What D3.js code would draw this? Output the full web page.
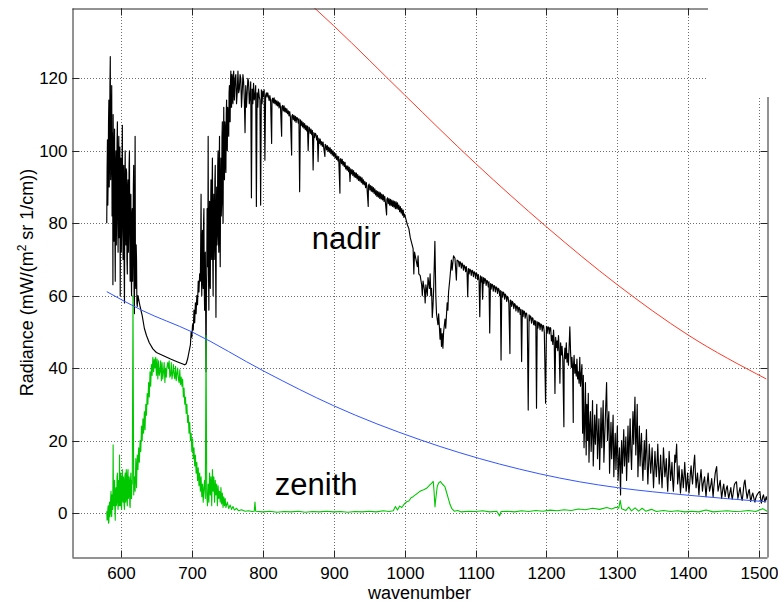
<!DOCTYPE html>
<html>
<head>
<meta charset="utf-8">
<script src="https://cdn.jsdelivr.net/npm/d3@7"></script>
<style>
  html, body { margin: 0; padding: 0; background: #fff; }
  svg { display: block; }
  text { font-family: "Liberation Sans", Arial, Helvetica, sans-serif; }
</style>
</head>
<body>
<script>
// ---------- data ----------
const xTicks = [600, 700, 800, 900, 1000, 1100, 1200, 1300, 1400, 1500];
const yTicks = [0, 20, 40, 60, 80, 100, 120];
const xLabel = "wavenumber";
const yLabelMain = "Radiance (mW/(m";
const yLabelSup = "2";
const yLabelTail = " sr 1/cm))";
const annotations = [
  { text: "nadir", wn: 869, rad: 72.8 },
  { text: "zenith", wn: 817, rad: 5.0 }
];

// nadir (black) spectrum: [wavenumber, radiance]
const nadirPoints = [
[580,80],[580.5,95],[581,103],[581.5,85],[582,92],[582.5,108],[583,114],[583.5,90],[584,98],[584.5,118],[585,126],[585.5,92],[586,96],[586.5,110],[587,118],[587.5,82],[588,88],[588.3,105],[588.7,63],[589,110],[589.5,92],[590,75],[590.5,100],[591,106],[591.5,78],[592,64],[592.5,95],[593,100],[593.5,74],[594,85],[594.5,102],[595,108],[595.5,80],[596,72],[596.5,98],[597,104],[597.5,76],[598,90],[598.5,101],[599,60],[599.5,88],[600,98],[600.5,72],[601,78],[601.5,96],[602,107],[602.5,82],[603,70],[603.5,94],[604,96],[604.5,68],[605,58],[605.5,90],[606,100],[606.5,80],[607,74],[607.5,95],[608,94],[608.5,70],[609,66],[609.5,90],[610,92],[610.5,72],[611,80],[611.5,96],[612,100],[612.5,75],[613,64],[613.5,86],[614,88],[614.5,66],[615,60],[615.5,82],[616,84],[616.5,64],[617,72],[617.5,90],[618,96],[618.5,62],[619,55],[619.5,80],[620,104],[620.5,64],[621,62],[621.5,74],[622,70],[622.5,58],[623,57],
[624,60],[627,57],[630,54.5],[633,51],[636,49],[640,47],[645,45.3],[650,44.3],[660,43.4],[670,42.5],[680,41.7],[690,40.9],
[692,41.2],[694,42.5],[696,44.5],[698,46.5],[699,50],[700,48.5],[701,52],[702,50.5],[703,56],[704,52.5],[705,58],[706,55],[707,60],[708,57.5],[709,64],[710,61],[711,66],
[712,64],[712.5,75],[713,88],[713.5,66],[714,60],[714.5,74],[715,78],[715.5,64],[716,62],[716.5,80],[717,84],[717.5,62],[718,56],[718.5,70],[719,72],[719.5,55],[720,39],[720.5,60],[721,66],[721.5,84],[722,80],[722.5,68],[723,104],[723.5,66],[724,56],[724.5,78],[725,86],[725.5,64],[726,62],[726.5,84],[727,92],[727.5,72],[728,70],[728.5,90],[729,98],[729.5,70],[730,60],[730.5,82],[731,88],[731.5,70],[732,74],[732.5,92],[733,96],[733.5,68],[734,54],[734.5,80],[735,90],[735.5,74],[736,78],[736.5,96],[737,100],[737.5,76],[738,72],[738.5,94],[739,104],[739.5,78],[740,68],[740.5,90],[741,98],[741.5,82],[742,86],[742.5,104],[743,108],[743.5,86],[744,80],[744.5,100],[745,112],[745.5,94],[746,92],[746.5,108],[747,106],[747.5,96],[748,94],[748.5,110],[749,114],[749.5,102],[750,100],[750.5,112],[751,110],[751.5,106],[752,104],[752.5,116],[753,118],[753.5,108],[754,108],[754.5,119],[755,122],[755.5,112],[756,112],[756.5,121],[757,120],[757.5,114],[758,113],[758.5,121],[759,122],[759.5,116],
[760,114],[761,120],[762,121],[763,113],[764,116],[765,122],[766,116],[767,117],[768,121],[769,120],[770,112],[771,116],[772,121],[773,119],[774,114],[775,105],[776,118],[777,112],[778,116],[779,120],[780,119],[781,113],[782,115],[783,119],[784,87],[785,117],[786,113],[787,118.6],[788,114],[789,115],[790,118],[791,84.6],[792,116],[793,112],[794,117],[795,115],[796,114],[797,85],[798,116.8],[799,113],
[800,116.5],[801,115],[802,116.8],[803,97.4],[804,115.2],[805,116],[806,114.8],[807,116],[808,115],[809,113.8],[810,115.2],[811,114],[812.5,102],[813,114],[814,114.5],[815,113.2],[816,114.6],[817,113],[818,114],[819,112.6],[820,113.8],[821,112.4],[822,113.5],[823,111.8],[824,113.2],[825,112],[826.6,104],[827,112.2],[828,112.5],[829,111],[830,112.4],[831,110.8],[832,111.8],[833,110.5],[834,111.6],[835,110.2],[836,111],[837,109.6],[838,110.8],[839,109.2],[840.7,98.8],[841,109.5],[842,110],[843,108.6],[844,109.8],[845,108.2],[846,109.5],[847,107.8],[848,109.2],[849,109],[850,107.6],[851,108.8],[852,88.7],[853,108.5],[854,107],[855,108.2],[856,106.6],[857,107.8],[858,106.2],[859,107.5],[860,105.8],[861,107],[862,105.5],[863,106.8],[864,100],[865,106.5],[866,106.2],[867,104.8],[868,106],[869,104.4],[870,105.6],[871,94.7],[872,105],[873,103.6],[874,104.8],[875,104.5],[876,103],[877,104.2],[878,97],[879,103.5],[880,102],[881,103.2],[882,101.6],[883,102.5],[884,101.2],[885,102.4],[886,100.8],[887.6,98.4],[888,101.8],[889,101.5],[890,100.2],[891,101.4],[892,99.8],[893,101],[894,99.6],[895,100.8],[896,99.2],[897,100.3],[898,98.8],[899,100],[900,98.5],[901,99.5],[902,98],[903,99.2],[904,97.6],[905,98.5],[906,97.2],[907,98.4],[908.8,88.3],[909,97.6],[910,97.8],[911,96.4],[912,97.6],[913,96],[914,97],[915,95.6],[916,96.8],[917,95],[918,95.8],[919,94.6],[920,95.8],[921,94.2],[922,95.4],[923,91.5],[924,95],[925,93.6],[926,94.8],[927,93.2],[928,94.5],[929,92.8],[930,94],[931,92.6],[932,93.8],[933,92.2],[934,93.4],[935,91.8],[936,93],[937,91.6],[938,92.8],[939,91.2],[940,92.5],[941,90.8],[942,92],[943,90.6],[944,91.5],[945,89.8],[946,91.2],[947,89.6],[948.7,84.6],[949,90.4],[950,90.8],[951,89.2],[952,90.4],[953,88.8],[954,90.2],[955,88.6],[956,89.8],[957,88.2],[958,89.5],[959,87.8],[960,89],[961,87.4],[962,88.8],[963,87.2],[964,88.6],[965,86.8],[966,88.4],[967,86.6],[968,88],[969,86.4],[970,87.8],[971,86],[972,87.4],[973,85.6],[974.6,82.3],[975,86.6],[976,87],[977,85.4],[978,86.8],[979,85],[980,86.6],[981,84.8],[982,86.4],[983,84.6],[984,86.2],[985,84.4],[986,86],[987,84],[988,85.9],[989,84],[990,85.6],[991,83.8],[992,85],[993,83.2],[994,84.6],[995,82.8],[996,84],[997,82.2],[998,83.6],[999,81.6],[1000,82.5],
[1002,81],[1004,79.5],[1006,78.5],[1008,76],[1010,74.5],[1012,73],[1013,66],[1014,72],[1016,70],[1018,68],[1019,71],[1020,66],[1022,65.5],[1024,63],[1025,60],[1026,64],[1028,61.5],[1029,58],[1030,63],[1032,60],[1033,65],[1035,62],[1036,66],[1037,60],[1038,62],[1039,54],[1040,57],[1041,62],[1042.7,75],[1044,60],[1045,55],[1047,52],[1048,55],[1050,48],[1051,51],[1052,46],[1053,49.5],[1054,45.5],[1055,50],[1057,53.5],[1058,51],[1060,58],[1061,56],[1062,61],[1064,65],[1066,69.8],[1067,67],[1069,71],[1071,70.3],[1073,64.3],[1074,69.8],
[1076,69.5],[1077,68],[1078,69.4],[1079,69],[1080,67.6],[1081,69],[1082,68.5],[1083,67],[1084,68.4],[1085,68],[1086,66.6],[1087,68],[1088,66.5],[1089,59.7],[1090,67.5],[1091,66],[1092,67.3],[1093,67],[1094,65.6],[1095,67],[1096,66.8],[1097,65.2],[1098,66.6],[1099,66.4],[1100,64.8],[1101,66.2],[1102,66],[1103,64.4],[1104,65.8],[1105,64.2],[1106,54.2],[1107,65.5],[1108,63.8],[1109,65.2],[1110,59],[1111,65],[1112,63.4],[1113,64.8],[1114,64.5],[1115,62.8],[1116,64.2],[1117,64],[1118,62.4],[1119,63.8],[1120,49.7],[1121,63.3],[1122,61.8],[1123,63.2],[1124,63],[1125,61.2],[1126,62.8],[1127,62.6],[1128,61],[1129,62.4],[1130,62.2],[1131,60.6],[1132,62],[1133,61.8],[1134,60],[1135,61.4],[1136,42.2],[1137,61.2],[1138,59.6],[1139,61],[1140,60.7],[1141,59],[1142,60.4],[1143,60],[1144,58.4],[1145,59.8],[1146,59.5],[1147,57.8],[1148.5,44],[1149,58.8],[1150,58.6],[1151,57],[1152,58.4],[1153,58],[1154,56.4],[1155,57.8],[1156,57.5],[1157,55.8],[1158,57.2],[1159,57],[1160,55.4],[1161,56.8],[1162,56.6],[1163,54.8],[1164,56.2],[1165,41.8],[1166,56],[1167,54.2],[1168,55.8],[1169,55.6],[1170,53.8],[1171,55.2],[1172,55.1],[1173,53.4],[1174.3,28.4],[1175.5,54.7],[1176,53],[1177,54.4],[1178,54.2],[1179,52.4],[1180,53.9],[1181,53.7],[1182,52],[1183.5,53.2],[1184,51.8],[1185,53],[1186,28.9],[1187,52.8],[1188,51],[1189,52.6],[1190,52.4],[1191,50.6],[1192,52.2],[1193,52],[1194,50.2],[1195,51.8],[1196,51.7],[1197,49.8],[1198.8,30.3],[1200,51.5],[1201,49.6],[1202,51.4],[1203,51.3],[1204,49.4],[1205,51.2],[1206,51],[1207,47.5],[1208,49],[1209,46.5],[1210,50.5],[1211,47],[1212,33],[1213,48.5],[1214,45.6],[1215,47.5],[1216,44.8],[1217,49],[1218,45],[1219,35.8],[1220,47],[1221,43.6],[1222,46],[1223,42.8],[1224.6,23.8],[1225,42],[1226,45.5],[1227,42.6],[1228,47],[1229,41.6],[1230,44],[1231,40.8],[1232,46],[1233,51.4],[1234,44.5],[1235,40.2],[1236,43],[1237,39.4],[1237.8,25],[1238,40],[1239,43.5],[1240,38.6],[1241,41],[1242,37.8],[1243,42.5],[1244,37],[1245,39],[1246,35.8],[1247,43],[1248,35],[1249,38],
[1250,41],[1251,22],[1252,38],[1253,18],[1254,25],[1255,36],[1256,16],[1257,30],[1258,20],[1259,33],[1260,14],[1261,24],[1262,28],[1263,17],[1264,22],[1265,31],[1266,13],[1267,20],[1268,27],[1269,19],[1270,24],[1271,30],[1272,15],[1273,21],[1274,26],[1275,12],[1276,20],[1277,29],[1278,18],[1279,24],[1280,31],[1281,14],[1282,20],[1283,26],[1284.8,36],[1286,20],[1287,25],[1288,28],[1289,11],[1290,18],[1291,25],[1292,15],[1293,21],[1294,27],[1295,10],[1296,17],[1297,22],[1298,12],[1299,18],[1300,24],[1301,9],[1302,14],[1303,18],[1304.5,5],[1305,13],[1306,20],[1307,11],[1308,17],[1309,23],[1310,13],[1311,17],[1312,21],[1313,9],[1314,16],[1315,24],[1316,14],[1317,19],[1318,26],[1319,17],[1320,12],[1321,20],[1322,28],[1323,19],[1324.8,32],[1326,16],[1327,22],[1328,30],[1329,10],[1330,17],[1331,24],[1332,13],[1333,18],[1334,22],[1335,14],[1336,9],[1337,15],[1338,20],[1339,12],[1340,17],[1341,23],[1342,14],[1343,8],[1344,13],[1345,19],[1346,15],[1347,11],[1348,14],[1349,18],[1350,12],[1351,7],[1352,12],[1353,17],[1354,13],[1355,10],[1356,14],[1357,19],[1358,13],[1359,8],[1360,12],[1361,16],[1362,11],[1363,7],[1364,12],[1365,18],[1366,14],[1367,10],[1368,12],[1369,15],[1370,10],[1371,6],[1372,11],[1373,17],[1374,13],[1375,9],[1376,11],[1377,14],[1378,9],[1379,6],[1380,10],[1381,16],[1382,14],[1383.6,19],[1385,8],[1386,10],[1387,13],[1388,9],[1389,5.5],[1390,8],[1391,12],[1392,10],[1393,7],[1394,10],[1395,14],[1396,10],[1397,6],[1398,8],[1399,11],[1400,8],[1401,5.5],[1402,8],[1403,11],[1404,13],[1405,10],[1406,8],[1407,11],[1408,14],[1409,16],[1410,11],[1411,7],[1412,9],[1413,11],[1414,8],[1415,5],[1416,8],[1417,10],[1418,12],[1419,9],[1420,6],[1421,8],[1422,9],[1423,10],[1424,7],[1425,4.5],[1426,7],[1427,9],[1428,11],[1429,8],[1430,6],[1431,7],[1432,8],[1433,9.5],[1434,7],[1435,4.5],[1436,7],[1437,9],[1438,11],[1439,12],[1440,12.8],[1441,9],[1442,6],[1443,7],[1444,8],[1445,9],[1446,6.5],[1447,4],[1448,5.5],[1449,7],[1450,8],[1451,6],[1452,4.5],[1453,6],[1454,7],[1455,7.5],[1456,5.5],[1457,4],[1458,5],[1459,6],[1460,7],[1461,5],[1462,3.8],[1463,5],[1464,6.5],[1465,7.8],[1466,8.2],[1467,8.5],[1468,8.6],[1469,6],[1470,4],[1471,5],[1472,6.2],[1473,7],[1474,5.5],[1475,4.2],[1476,3.5],[1477,5],[1478,7],[1479,8.5],[1480,9.1],[1481,7],[1482,5.5],[1483,4],[1484,5],[1485,6],[1486,6.5],[1487,4.8],[1488,3.2],[1489,4],[1490,5],[1491,5.5],[1492,4.5],[1493,3.6],[1494,3],[1495,4],[1496,4.6],[1497,5],[1498,5.3],[1499,5.6],[1500,5.8],[1501,5.9],[1502,4],[1503,2.7],[1504,3.5],[1505,4.5],[1506,5],[1507,4],[1508,3],[1509,3.8],[1510,4.5],[1511,3.5]
];

// zenith (green) spectrum: [wavenumber, radiance]
const zenithPoints = [
[580,0.5],[580.5,-2],[581,-1.5],[581.5,1],[582,2],[582.5,-2.8],[583,-2.5],[583.5,2],[584,3],[584.5,-1],[585,0],[585.5,4],[586,6],[586.5,0],[587,-1],[587.5,5],[588,4],[588.5,1],[589,18.8],[589.5,3],[590,2],[590.5,8],[591,9],[591.5,1],[592,-2],[592.5,6],[593,7],[593.5,2],[594,3],[594.5,10],[595,11],[595.5,3],[596,1],[596.5,9],[597,8],[597.5,2],[598,16],[598.5,4],[599,2],[599.5,11],[600,10],[600.5,2],[601,1],[601.5,9],[602,12],[602.5,4],[603,3],[603.5,10],[604,9],[604.5,2],[605,1],[605.5,10],[606,11],[606.5,3],[607,4],[607.5,12],[608,10],[608.5,3],[609,2],[609.5,11],[610,12],[610.5,4],[611,5],[611.5,10],[612,9],[612.5,2],[613,1.5],[613.5,9],[614,11],[614.5,4],[615,4],[615.5,9],[616,8],[617,60],[618,5],[619,10],[620,6],[621,15],[622,7],[623,16],[624,12],[625,18],[626,14],[627,20],[628,17],[629,24],[630,20],[631,26],[632,22],[633,28],[634,23],[635,30],[636,27],[637,33],[638,30],[639,36],[640,32],[641,39],[642,35],[643,41],[644,38],[645,43],[646,39],[647,42.5],[648,40],[649,43],[650,38],[651,42.5],[652,37],[653,42],[654,38],[655,39],[656,42],[657,36.5],[658,41.5],[659,37],[660,39],[661,41.5],[662,36],[663,40],[664,37.5],[665,40.5],[666,41.5],[667,40],[668,42],[669,37.5],[670,38],[671,41.5],[672,37],[673,38.5],[674,41],[675,38],[676,37],[677,40.5],[678,36.5],[679,38.5],[680,40],[681,37],[682,36],[683,39.5],[684,35.5],[685,37.5],[686,35],[687,37],[688,32],[689,34.5],[690,30],[691,32],[692,27.5],[693,30],[694,25],[695,27],[696,22],[697,25],[698,20],[699,22],[700,17],[701,20.5],[702,15],[703,18],[704,13],[705,16],[706,11],[707,14],[708,9],[709,12.5],[710,7.5],[711,11],[712,6],[713,10],[714,4.5],[715,8],[716,3],[717,7],[718,9],[719,4],[720,49],[721,5],[722,2],[723,8],[724,3],[725,11],[726,5],[727,10],[728,2],[729,12],[730,6],[731,10],[732,3],[733,9],[734,5],[735,8],[736,2],[737,7.5],[738,4],[739,6],[740,3],[741,7],[742,2.5],[743,5.5],[744,1.5],[745,4.5],[746,2],[747,4],[748,1.5],[750,3],[752,1.2],[754,2.2],[756,1],[758,1.8],[760,0.8],[763,1.3],[766,0.6],[770,0.9],[775,0.5],[780,0.6],[785,0.4],[788,0.5],[789,3],[790,0.5],[800,0.3],[810,0.5],[820,0.2],[830,0.4],[840,0.3],[850,0.5],[860,0.2],[870,0.4],[880,0.3],[890,0.5],[900,0.3],[910,0.4],[920,0.2],[930,0.4],[940,0.3],[950,0.5],[960,0.3],[970,0.6],[978,0.4],[984,0.6],[987,1.8],[990,0.8],[993,1.9],[996,1.5],[1000,2.6],[1003,3.1],[1006,3.3],[1009,4.2],[1012,4.5],[1015,5],[1018,5.4],[1021,5.9],[1024,6.2],[1027,6.4],[1031,6.8],[1034,7.4],[1036,7.8],[1038,8.2],[1040.4,8.7],[1041.5,6],[1042.8,1.7],[1044,4],[1046,7.3],[1048,8.3],[1050.7,8.7],[1053,8],[1056.8,7.3],[1059,5.8],[1061.5,4.1],[1064,2.4],[1066.3,1.3],[1070,0.5],[1075,0.7],[1080,0.3],[1090,0.5],[1100,0.4],[1110,0.6],[1120,0.3],[1130,0.5],[1134,-0.8],[1136,0.4],[1145,0.5],[1155,0.3],[1165,0.6],[1175,0.4],[1185,0.7],[1195,0.5],[1205,0.8],[1215,0.6],[1225,0.9],[1235,0.7],[1245,1.1],[1255,0.9],[1265,1.3],[1275,1],[1285,1.5],[1292,1.1],[1298,1.6],[1302,1.3],[1304,3.5],[1306,1.2],[1312,0.7],[1316,1.6],[1320,0.6],[1325,1.4],[1330,0.5],[1335,1.3],[1340,0.5],[1348,1],[1355,0.4],[1365,0.7],[1375,0.4],[1385,0.6],[1395,0.3],[1405,0.5],[1415,0.3],[1425,0.8],[1435,0.3],[1445,0.5],[1455,0.6],[1465,0.4],[1475,0.5],[1485,0.7],[1495,0.4],[1505,1.2],[1511,0.5]
];

// smooth reference curves (blue and red)
const blueWn  = [580, 629, 700, 803, 900, 1022, 1134, 1247, 1300, 1400, 1510];
const blueRad = [61.1, 56, 50, 39, 29.6, 20.2, 13.5, 8.6, 7.0, 4.9, 3.1];
const redWn   = [850, 900, 1000, 1100, 1200, 1300, 1400, 1510];
const redRad  = [143.5, 134.5, 115.4, 96.5, 79, 63, 49.1, 37];

// ---------- drawing ----------
const W = 778, H = 603;
const L = 72, R = 767, T = 8, B = 557;

const x = d3.scaleLinear().domain([531, 1511]).range([L, R]);
const y = d3.scaleLinear().domain([-12.15, 139.4]).range([B, T]);

const svg = d3.select("body").append("svg").attr("width", W).attr("height", H);
svg.append("rect").attr("width", W).attr("height", H).attr("fill", "#fff");

svg.append("defs").append("clipPath").attr("id", "plotclip")
  .append("rect").attr("x", L).attr("y", T).attr("width", R - L).attr("height", B - T);

const crisp = v => Math.round(v) + 0.5;

// grid (dotted)
const grid = svg.append("g");
xTicks.forEach(t => grid.append("line")
  .attr("x1", crisp(x(t))).attr("x2", crisp(x(t))).attr("y1", T).attr("y2", B)
  .attr("stroke", "#6e6e6e").attr("stroke-width", 1).attr("stroke-dasharray", "1 2"));
yTicks.forEach(t => grid.append("line")
  .attr("y1", crisp(y(t))).attr("y2", crisp(y(t))).attr("x1", L).attr("x2", R)
  .attr("stroke", "#6e6e6e").attr("stroke-width", 1).attr("stroke-dasharray", "1 2"));

// data lines
const plot = svg.append("g").attr("clip-path", "url(#plotclip)");
const line = d3.line().x(d => x(d[0])).y(d => y(d[1]));
const smooth = d3.line().x(d => x(d[0])).y(d => y(d[1])).curve(d3.curveMonotoneX);

plot.append("path").datum(nadirPoints).attr("d", line)
  .attr("fill", "none").attr("stroke", "#000").attr("stroke-width", 1.15).attr("stroke-linejoin", "round");
plot.append("path").datum(zenithPoints).attr("d", line)
  .attr("fill", "none").attr("stroke", "#00c800").attr("stroke-width", 1.1).attr("stroke-linejoin", "round");
plot.append("path").datum(blueWn.map((w, i) => [w, blueRad[i]])).attr("d", smooth)
  .attr("fill", "none").attr("stroke", "#3355ff").attr("stroke-width", 1);
plot.append("path").datum(redWn.map((w, i) => [w, redRad[i]])).attr("d", smooth)
  .attr("fill", "none").attr("stroke", "#ff3a2a").attr("stroke-width", 1);

// axes (box with inward ticks)
const fontSize = 17;
const labelSize = 18;
const fmt = d3.format("d");
const axB = svg.append("g").attr("transform", `translate(0,${B + 0.5})`)
  .call(d3.axisBottom(x).tickValues(xTicks).tickFormat(fmt).tickSize(-7).tickSizeOuter(0).tickPadding(9));
const axT = svg.append("g").attr("transform", `translate(0,${T + 0.5})`)
  .call(d3.axisTop(x).tickValues(xTicks).tickSize(-7).tickSizeOuter(0).tickFormat(""));
const axL = svg.append("g").attr("transform", `translate(${L + 0.5},0)`)
  .call(d3.axisLeft(y).tickValues(yTicks).tickFormat(fmt).tickSize(-7).tickSizeOuter(0).tickPadding(5));
const axR = svg.append("g").attr("transform", `translate(${R + 0.5},0)`)
  .call(d3.axisRight(y).tickValues(yTicks).tickSize(-7).tickSizeOuter(0).tickFormat(""));

[axB, axT, axL, axR].forEach(g => {
  g.selectAll("path.domain").attr("stroke", "#262626").attr("stroke-width", 1);
  g.selectAll(".tick line").attr("stroke", "#262626").attr("stroke-width", 1);
  g.selectAll(".tick text").attr("fill", "#000").attr("font-size", fontSize)
    .attr("font-family", "Liberation Sans, Arial, sans-serif");
});
[axB, axT].forEach(g => g.selectAll(".tick").attr("transform", d => `translate(${crisp(x(d))},0)`));
[axL, axR].forEach(g => g.selectAll(".tick").attr("transform", d => `translate(0,${crisp(y(d))})`));

// cut-away white corner at top right (as in the reference)
svg.append("rect").attr("x", 708).attr("y", 0).attr("width", W - 708).attr("height", 97).attr("fill", "#fff");

// axis labels
svg.append("text").attr("x", (L + R) / 2).attr("y", 599)
  .attr("text-anchor", "middle").attr("font-size", labelSize).attr("fill", "#000").text(xLabel);

const yl = svg.append("text")
  .attr("transform", `translate(33,${(T + B) / 2}) rotate(-90)`)
  .attr("text-anchor", "middle").attr("font-size", labelSize).attr("fill", "#000");
yl.append("tspan").text(yLabelMain);
yl.append("tspan").attr("dy", -7).attr("font-size", 12).text(yLabelSup);
yl.append("tspan").attr("dy", 7).text(yLabelTail);

// annotations
annotations.forEach(a => svg.append("text")
  .attr("x", x(a.wn)).attr("y", y(a.rad))
  .attr("font-size", 31).attr("fill", "#000").text(a.text));
</script>
</body>
</html>
